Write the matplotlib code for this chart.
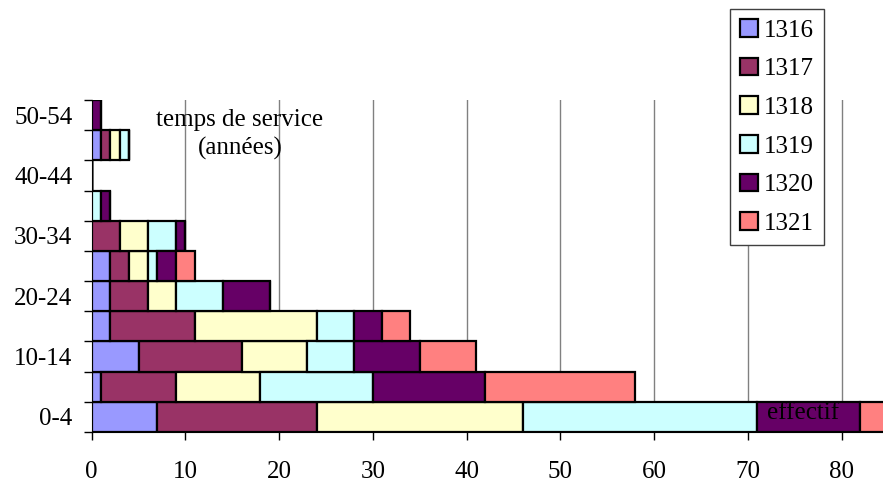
import matplotlib.pyplot as plt
import numpy as np
from matplotlib.patches import Patch

plt.rcParams['font.family'] = ['Liberation Serif', 'DejaVu Serif']

# tranches de temps de service (années)
categories = ['0-4', '5-9', '10-14', '15-19', '20-24', '25-29',
              '30-34', '35-39', '40-44', '45-49', '50-54']
years = ['1316', '1317', '1318', '1319', '1320', '1321']

# effectif par année, une valeur par tranche
v1316 = [7, 1, 5, 2, 2, 2, 0, 0, 0, 1, 0]
v1317 = [17, 8, 11, 9, 4, 2, 3, 0, 0, 1, 0]
v1318 = [22, 9, 7, 13, 3, 2, 3, 0, 0, 1, 0]
v1319 = [25, 12, 5, 4, 5, 1, 3, 1, 0, 1, 0]
v1320 = [11, 12, 7, 3, 5, 2, 1, 1, 0, 0, 1]
v1321 = [8, 16, 6, 3, 0, 2, 0, 0, 0, 0, 0]

series = [v1316, v1317, v1318, v1319, v1320, v1321]
colors = ['#9999FF', '#993366', '#FFFFCC', '#CCFFFF', '#660066', '#FF8080']

fig = plt.figure(figsize=(8.83, 4.82), dpi=100)
ax = fig.add_axes([91.7 / 883, 1 - 432 / 482, (883 - 91.7) / 883, 332 / 482])

y = np.arange(len(categories))
left = np.zeros(len(categories))
for vals, c in zip(series, colors):
    vals = np.array(vals)
    ax.barh(y, vals, left=left, height=1.0, color=c, edgecolor='black',
            linewidth=1.6, zorder=3)
    left += vals

ax.set_xlim(0, 84.4)
ax.set_ylim(-0.5, len(categories) - 0.5)

ax.set_xticks(np.arange(0, 81, 10))
ax.tick_params(axis='x', direction='out', length=6, width=1, pad=15,
               labelsize=18, colors='black')
ax.xaxis.grid(True, color='#808080', linewidth=1, zorder=0)
ax.set_axisbelow(True)

# libellés une tranche sur deux, traits aux limites des tranches
ax.set_yticks(y[::2])
ax.set_yticklabels(categories[::2])
ax.set_yticks(np.arange(-0.5, len(categories), 1), minor=True)
ax.tick_params(axis='y', which='major', length=0, pad=14, labelsize=18)
ax.tick_params(axis='y', which='minor', direction='out', length=6, width=1)

for s in ['top', 'right']:
    ax.spines[s].set_visible(False)
ax.spines['left'].set_color('black')
ax.spines['bottom'].set_color('black')

ax.text(15.8, 9.35, 'temps de service\n(années)', ha='center', va='center',
        fontsize=18, linespacing=1.35)
ax.text(75.9, 0.12, 'effectif', ha='center', va='center', fontsize=18, zorder=5)

handles = [Patch(facecolor=c, edgecolor='black', linewidth=1.6) for c in colors]
leg = fig.legend(handles, years, loc='upper left',
                 bbox_to_anchor=(730 / 883, 1 - 9 / 482), borderaxespad=0,
                 fontsize=18, handlelength=0.72, handleheight=0.72,
                 handletextpad=0.25, labelspacing=0.64, borderpad=0.4,
                 fancybox=False, framealpha=1)
leg.get_frame().set_edgecolor('#404040')
leg.get_frame().set_linewidth(1)

fig.savefig('out.png', dpi=100)
